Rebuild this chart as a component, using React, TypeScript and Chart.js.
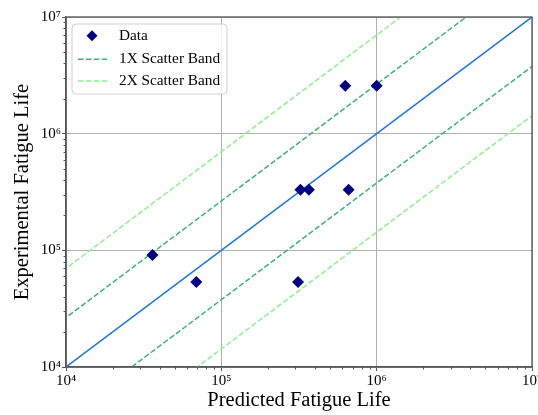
import React, { useEffect, useRef } from "react";
import { Chart, registerables } from "chart.js";

Chart.register(...registerables);

// ---- data ----
const predictedLife = [3.6e4, 6.9e4, 3.12e5, 3.23e5, 3.66e5, 6.6e5, 6.28e5, 1.0e6];
const experimentalLife = [9.1e4, 5.35e4, 5.35e4, 3.3e5, 3.3e5, 3.3e5, 2.57e6, 2.57e6];
const band1XFactor = 2.65;
const band2XFactor = 7.0;
const lineRange = [1e3, 1e8];
const majorTicks = [1e4, 1e5, 1e6, 1e7];
const tickLabels = ["10⁴", "10⁵", "10⁶", "10⁷"];
const legendLabels = ["Data", "1X Scatter Band", "2X Scatter Band"];
const axisTitles = { x: "Predicted Fatigue Life", y: "Experimental Fatigue Life" };

const FONT = "'Liberation Serif', 'DejaVu Serif', serif";
const NAVY = "#000080";
const BAND1 = "#3cb371";
const BAND2 = "#90ee90";
const DIAG = "#1f78d6";
const FRAME = "#555555";

const linePts = (k: number) => lineRange.map((x) => ({ x, y: x * k }));

const minorTickPlugin = {
  id: "minorTicksFrame",
  afterDraw(chart: any) {
    const { ctx, chartArea } = chart;
    const xs = chart.scales.x;
    const ys = chart.scales.y;
    ctx.save();
    ctx.strokeStyle = FRAME;
    ctx.lineWidth = 1;
    for (let d = 0; d < majorTicks.length - 1; d++) {
      for (let m = 2; m <= 9; m++) {
        const v = majorTicks[d] * m;
        const px = Math.round(xs.getPixelForValue(v)) + 0.5;
        ctx.beginPath();
        ctx.moveTo(px, chartArea.bottom);
        ctx.lineTo(px, chartArea.bottom + 2.5);
        ctx.stroke();
        const py = Math.round(ys.getPixelForValue(v)) + 0.5;
        ctx.beginPath();
        ctx.moveTo(chartArea.left, py);
        ctx.lineTo(chartArea.left - 2.5, py);
        ctx.stroke();
      }
    }
    ctx.lineWidth = 1.3;
    ctx.strokeRect(chartArea.left, chartArea.top, chartArea.right - chartArea.left, chartArea.bottom - chartArea.top);
    ctx.restore();
  },
};

const legendPlugin = {
  id: "insideLegend",
  afterDraw(chart: any) {
    const { ctx } = chart;
    const x0 = 72, y0 = 24, w = 155, h = 70, r = 4;
    ctx.save();
    ctx.beginPath();
    ctx.moveTo(x0 + r, y0);
    ctx.lineTo(x0 + w - r, y0);
    ctx.quadraticCurveTo(x0 + w, y0, x0 + w, y0 + r);
    ctx.lineTo(x0 + w, y0 + h - r);
    ctx.quadraticCurveTo(x0 + w, y0 + h, x0 + w - r, y0 + h);
    ctx.lineTo(x0 + r, y0 + h);
    ctx.quadraticCurveTo(x0, y0 + h, x0, y0 + h - r);
    ctx.lineTo(x0, y0 + r);
    ctx.quadraticCurveTo(x0, y0, x0 + r, y0);
    ctx.closePath();
    ctx.fillStyle = "rgba(255,255,255,0.8)";
    ctx.fill();
    ctx.strokeStyle = "#d0d0d0";
    ctx.lineWidth = 1;
    ctx.stroke();

    const rows = [35.7, 59.3, 81];
    const mx = 92, my = rows[0];
    ctx.beginPath();
    ctx.moveTo(mx, my - 5.5);
    ctx.lineTo(mx + 5.5, my);
    ctx.lineTo(mx, my + 5.5);
    ctx.lineTo(mx - 5.5, my);
    ctx.closePath();
    ctx.fillStyle = NAVY;
    ctx.fill();
    [BAND1, BAND2].forEach((c, i) => {
      ctx.beginPath();
      ctx.setLineDash([5.5, 2.4]);
      ctx.strokeStyle = c;
      ctx.lineWidth = 1.5;
      ctx.moveTo(78, rows[i + 1]);
      ctx.lineTo(108, rows[i + 1]);
      ctx.stroke();
    });
    ctx.setLineDash([]);
    ctx.fillStyle = "#000";
    ctx.font = `15.3px ${FONT}`;
    ctx.textBaseline = "middle";
    legendLabels.forEach((t, i) => ctx.fillText(t, 119, rows[i]));
    ctx.restore();
  },
};

export default function App() {
  const ref = useRef<HTMLCanvasElement>(null);
  useEffect(() => {
    document.body.style.margin = "0";
    const lineDs = (label: string, k: number, color: string, dash: number[]) => ({
      label,
      data: linePts(k),
      showLine: true,
      borderColor: color,
      backgroundColor: color,
      borderWidth: 1.5,
      borderDash: dash,
      pointRadius: 0,
      pointHoverRadius: 0,
    });
    const chart = new Chart(ref.current!, {
      type: "scatter",
      data: {
        datasets: [
          {
            label: legendLabels[0],
            data: predictedLife.map((x, i) => ({ x, y: experimentalLife[i] })),
            pointStyle: "rectRot",
            pointRadius: 6,
            backgroundColor: NAVY,
            borderColor: NAVY,
            borderWidth: 0,
          } as any,
          lineDs("diag", 1, DIAG, []),
          lineDs(legendLabels[1], band1XFactor, BAND1, [5.5, 2.4]),
          lineDs(legendLabels[1], 1 / band1XFactor, BAND1, [5.5, 2.4]),
          lineDs(legendLabels[2], band2XFactor, BAND2, [5.5, 2.4]),
          lineDs(legendLabels[2], 1 / band2XFactor, BAND2, [5.5, 2.4]),
        ],
      },
      options: {
        animation: false,
        responsive: false,
        layout: { padding: { top: 17, right: 1.5, left: 0, bottom: 0 } },
        plugins: { legend: { display: false }, tooltip: { enabled: false } },
        scales: {
          x: {
            type: "logarithmic",
            min: 1e4,
            max: 1e7,
            afterBuildTicks: (s: any) => {
              s.ticks = majorTicks.map((v) => ({ value: v, major: true }));
            },
            afterFit: (s: any) => {
              s.height = 48;
              s.paddingRight = 0;
              s.paddingLeft = 0;
            },
            ticks: {
              autoSkip: false,
              maxRotation: 0,
              padding: 1,
              color: "#000",
              font: { family: FONT, size: 15 },
              callback: (v: any) => tickLabels[majorTicks.indexOf(Number(v))] ?? "",
            },
            grid: { color: "#b0b0b0", lineWidth: 1, tickColor: FRAME, tickLength: 4 },
            border: { color: FRAME, width: 1.3 },
            title: {
              display: true,
              text: axisTitles.x,
              color: "#000",
              font: { family: FONT, size: 20.5 },
              padding: { top: 0, bottom: 2 },
            },
          },
          y: {
            type: "logarithmic",
            min: 1e4,
            max: 1e7,
            afterBuildTicks: (s: any) => {
              s.ticks = majorTicks.map((v) => ({ value: v, major: true }));
            },
            afterFit: (s: any) => {
              s.width = 66;
              s.paddingTop = 0;
              s.paddingBottom = 0;
            },
            ticks: {
              autoSkip: false,
              padding: 1,
              color: "#000",
              font: { family: FONT, size: 15 },
              callback: (v: any) => tickLabels[majorTicks.indexOf(Number(v))] ?? "",
            },
            grid: { color: "#b0b0b0", lineWidth: 1, tickColor: FRAME, tickLength: 4 },
            border: { color: FRAME, width: 1.3 },
            title: {
              display: true,
              text: axisTitles.y,
              color: "#000",
              font: { family: FONT, size: 20.5 },
              padding: { top: 10, bottom: 0 },
            },
          },
        },
      },
      plugins: [minorTickPlugin, legendPlugin],
    });
    return () => chart.destroy();
  }, []);
  return <canvas ref={ref} width={538} height={415} style={{ display: "block" }} />;
}
